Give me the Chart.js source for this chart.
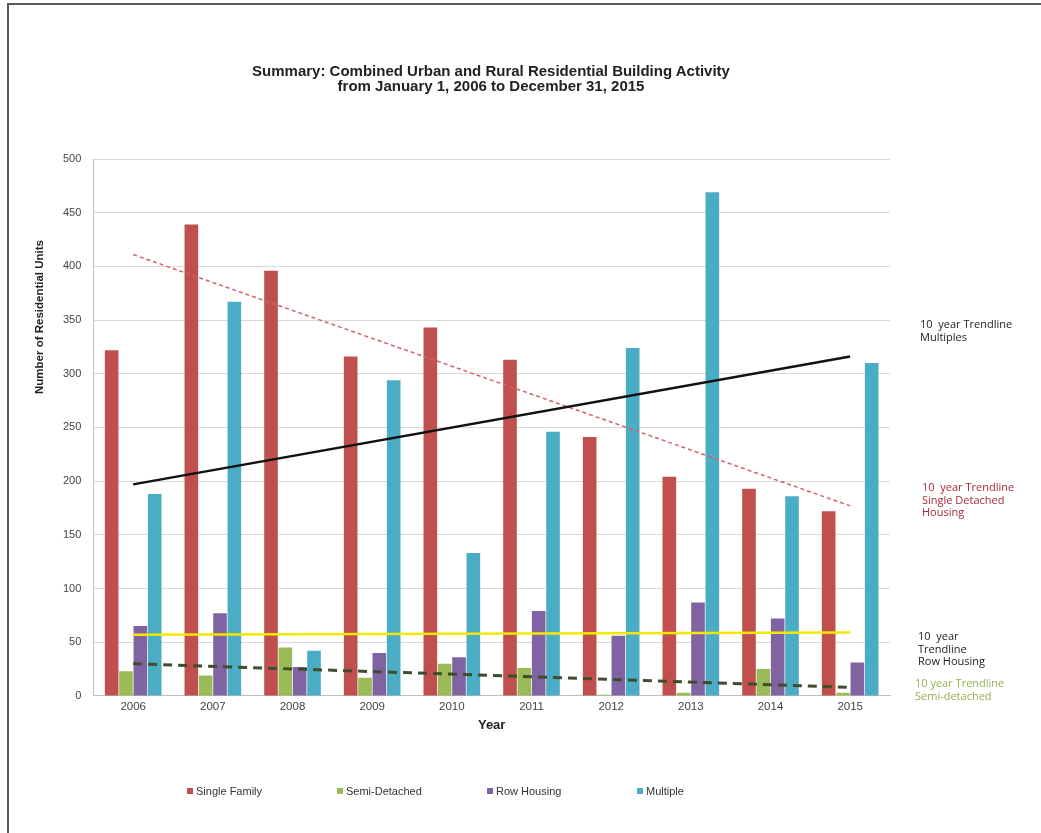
<!DOCTYPE html>
<html>
<head>
<meta charset="utf-8">
<script src="https://cdn.jsdelivr.net/npm/chart.js@4/dist/chart.umd.min.js"></script>
<style>
  html, body { margin: 0; padding: 0; background: #fff; }
  #wrap { position: relative; width: 1041px; height: 833px; overflow: hidden; }
  #frame { position: absolute; left: 7px; top: 3px; width: 1100px; height: 900px;
    border-left: 2px solid #5a5a5a; border-top: 2px solid #5a5a5a; }
  #chart-box { position: absolute; left: 0; top: 0; width: 1041px; height: 833px; }
  #title { position: absolute; left: 191px; width: 600px; top: 63px; text-align: center;
    font: bold 15px "Liberation Sans", Arial, sans-serif; line-height: 15px; color: #222; }
  #legend { position: absolute; left: 187px; top: 785px; display: flex;
    font: 11px "Liberation Sans", Arial, sans-serif; color: #333; }
  #legend .item { width: 150px; display: flex; align-items: center; }
  #legend .box { width: 6px; height: 6px; margin-right: 3px; }
</style>
</head>
<body>
<div id="wrap">
  <div id="frame"></div>
  <div id="chart-box"><canvas id="chart"></canvas></div>
  <div id="title">Summary: Combined Urban and Rural Residential Building Activity<br>from January 1, 2006 to December 31, 2015</div>
  <div id="legend"></div>
</div>
<script>
// years on the x axis
const years = ["2006", "2007", "2008", "2009", "2010", "2011", "2012", "2013", "2014", "2015"];

// units per year
const singleFamily = [322, 439, 396, 316, 343, 313, 241, 204, 193, 172];
const semiDetached = [23, 19, 45, 17, 30, 26, 1, 3, 25, 3];
const rowHousing = [65, 77, 27, 40, 36, 79, 56, 87, 72, 31];
const multiple = [188, 367, 42, 294, 133, 246, 324, 469, 186, 310];

// 10 year trendlines, only the two end points (first and last year)
const trendMultiples = [197, null, null, null, null, null, null, null, null, 316];
const trendSingle = [411, null, null, null, null, null, null, null, null, 177];
const trendRow = [57, null, null, null, null, null, null, null, null, 59];
const trendSemi = [30, null, null, null, null, null, null, null, null, 8];

const barLabels = ["Single Family", "Semi-Detached", "Row Housing", "Multiple"];
const barColors = ["#C0504D", "#9BBB59", "#8064A2", "#4BACC6"];

const yTicks = [0, 50, 100, 150, 200, 250, 300, 350, 400, 450, 500];

// notes at the right of the plot
const notes = [
  { lines: ["10  year Trendline", "Multiples"], color: "#222222", dx: 30, y: 325 },
  { lines: ["10  year Trendline", "Single Detached", "Housing"], color: "#A8283A", dx: 32, y: 488 },
  { lines: ["10  year", "Trendline", "Row Housing"], color: "#222222", dx: 28, y: 637 },
  { lines: ["10 year Trendline", "Semi-detached"], color: "#93B04F", dx: 25, y: 684 }
];

const barSeries = [singleFamily, semiDetached, rowHousing, multiple];

function trendDataset(data, color, width, dash) {
  return {
    type: "line",
    data: data,
    borderColor: color,
    borderWidth: width,
    borderDash: dash,
    pointRadius: 0,
    spanGaps: true,
    fill: false,
    order: 1
  };
}

const datasets = barSeries.map((values, i) => ({
  type: "bar",
  label: barLabels[i],
  data: values,
  backgroundColor: barColors[i],
  categoryPercentage: 0.72,
  barPercentage: 0.95,
  order: 2
}));

datasets.push(trendDataset(trendMultiples, "#111111", 2.5, []));
datasets.push(trendDataset(trendSingle, "#D4606A", 1.5, [4, 3]));
datasets.push(trendDataset(trendRow, "#F5E800", 2.5, []));
datasets.push(trendDataset(trendSemi, "#3F4D2C", 3, [9, 6]));

// y axis title and the trendline notes
const notesPlugin = {
  id: "notes",
  afterDraw(chart) {
    const ctx = chart.ctx;
    ctx.save();
    ctx.font = "bold 11.5px 'Liberation Sans', Arial, sans-serif";
    ctx.fillStyle = "#222";
    ctx.textAlign = "center";
    ctx.textBaseline = "middle";
    ctx.translate(40, 317);
    ctx.rotate(-Math.PI / 2);
    ctx.fillText("Number of Residential Units", 0, 0);
    ctx.restore();

    ctx.save();
    ctx.font = "11px 'Open Sans', sans-serif";
    ctx.textAlign = "left";
    ctx.textBaseline = "middle";
    notes.forEach(n => {
      ctx.fillStyle = n.color;
      n.lines.forEach((line, k) => {
        ctx.fillText(line, chart.chartArea.right + n.dx, n.y + k * 12.5);
      });
    });
    ctx.restore();
  }
};

const tickFont = { size: 11.5, lineHeight: 1, family: "'Liberation Sans', Arial, sans-serif" };

new Chart(document.getElementById("chart"), {
  data: { labels: years, datasets: datasets },
  options: {
    responsive: true,
    maintainAspectRatio: false,
    animation: false,
    layout: { padding: { left: 51, right: 151, top: 159, bottom: 100 } },
    plugins: {
      legend: { display: false },
      title: { display: false },
      tooltip: { enabled: false }
    },
    scales: {
      x: {
        offset: true,
        grid: { display: false, drawTicks: false },
        border: { color: "#bfbfbf" },
        ticks: { padding: 5, color: "#444", font: tickFont },
        title: {
          display: true,
          text: "Year",
          color: "#222",
          padding: { top: 0, bottom: 0 },
          font: { size: 13, weight: "bold", family: "'Liberation Sans', Arial, sans-serif" }
        }
      },
      y: {
        min: 0,
        max: 500,
        afterBuildTicks(scale) { scale.ticks = yTicks.map(v => ({ value: v })); },
        grid: { color: "#d9d9d9", drawTicks: false },
        border: { color: "#bfbfbf" },
        ticks: { padding: 12, color: "#444", font: { size: 11, family: "'Liberation Sans', Arial, sans-serif" } }
      }
    }
  },
  plugins: [notesPlugin]
});

// legend below the chart
const legend = document.getElementById("legend");
barLabels.forEach((label, i) => {
  const item = document.createElement("div");
  item.className = "item";
  item.innerHTML = `<span class="box" style="background:${barColors[i]}"></span>${label}`;
  legend.appendChild(item);
});
</script>
</body>
</html>
